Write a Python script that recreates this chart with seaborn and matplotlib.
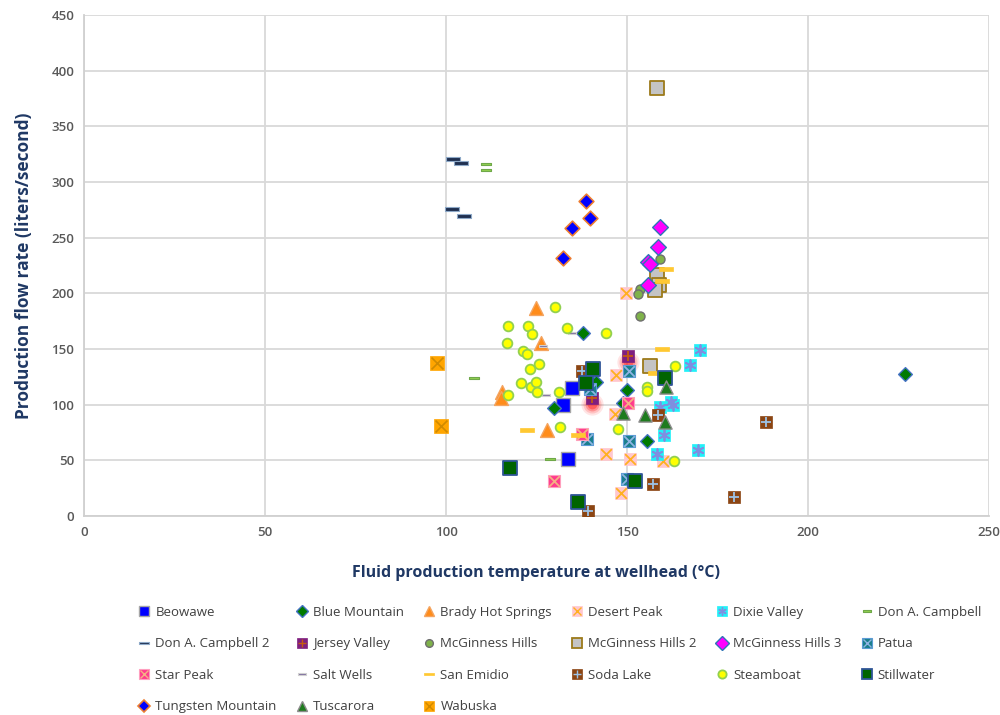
import numpy as np
import pandas as pd
import matplotlib
matplotlib.use("Agg")
import matplotlib.pyplot as plt
import matplotlib.transforms as mtransforms
from matplotlib.path import Path
from matplotlib.lines import Line2D
from matplotlib.legend_handler import HandlerTuple
import seaborn as sns

# ---- data: wellhead temperature (°C) and production flow rate (L/s) per field ----
BEOWAWE_T = [134.8, 132.3, 133.7]
BEOWAWE_Q = [114.9, 99.6, 51.2]
BLUE_MOUNTAIN_T = [137.9, 129.9, 149.9, 155.4, 226.8, 141.4, 148.8]
BLUE_MOUNTAIN_Q = [164.8, 97.2, 113.1, 67.6, 127.8, 120.6, 101.4]
BRADY_T = [124.9, 126.2, 115.4, 115.1, 127.8]
BRADY_Q = [186.4, 155.0, 111.6, 105.7, 77.2]
DESERT_PEAK_T = [149.7, 147.0, 146.7, 144.2, 150.8, 160.0, 148.3]
DESERT_PEAK_Q = [199.9, 126.6, 91.3, 55.7, 51.2, 49.7, 20.4]
DIXIE_T = [170.2, 167.4, 162.2, 162.8, 159.1, 160.2, 158.2, 169.7]
DIXIE_Q = [149.0, 135.5, 102.6, 99.6, 98.1, 72.7, 55.7, 59.2]
DAC_T = [111.0, 111.0, 107.8, 128.7]
DAC_Q = [316.0, 310.6, 124.1, 50.9]
DAC2_T = [102.0, 104.1, 101.6, 105.1]
DAC2_Q = [321.1, 317.2, 276.2, 269.6]
JERSEY_T = [150.4, 140.2]
JERSEY_Q = [143.6, 105.7]
MCG_T = [159.1, 153.6, 153.1, 153.6]
MCG_Q = [231.3, 203.8, 199.3, 179.5]
MCG2_T = [158.4, 158.4, 158.9, 157.7, 156.4]
MCG2_Q = [384.8, 216.3, 207.4, 202.9, 134.9]
MCG3_T = [159.1, 158.6, 155.8, 156.4, 155.9]
MCG3_Q = [259.7, 241.7, 228.3, 226.8, 207.4]
PATUA_T = [150.6, 138.9, 150.6, 149.9, 139.8]
PATUA_Q = [130.2, 68.8, 67.3, 33.2, 114.4]
STAR_PEAK_T = [150.2, 137.7, 129.9]
STAR_PEAK_Q = [101.2, 73.3, 31.4]
SALT_WELLS_T = [134.7, 126.9, 125.8, 127.5]
SALT_WELLS_Q = [164.0, 152.9, 138.5, 108.6]
SAN_EMIDIO_T = [160.8, 159.8, 159.8, 157.7, 122.5, 136.5]
SAN_EMIDIO_Q = [221.7, 211.2, 149.9, 128.6, 77.2, 72.7]
SODA_LAKE_T = [158.7, 157.3, 139.3, 188.4, 179.5, 137.7]
SODA_LAKE_Q = [90.7, 28.7, 4.5, 84.7, 17.3, 130.0]
STEAMBOAT_T = [130.1, 117.2, 122.7, 123.8, 133.3, 144.1, 116.8, 121.2, 122.5, 123.2,
               125.8, 163.3, 120.6, 123.5, 124.8, 125.2, 117.0, 131.1, 131.5, 147.6,
               155.6, 155.6, 163.0]
STEAMBOAT_Q = [187.9, 170.8, 170.6, 163.4, 168.5, 164.5, 155.6, 148.1, 145.4, 132.3,
               136.2, 134.3, 119.1, 116.1, 120.0, 111.6, 108.6, 111.0, 79.6, 77.8,
               115.5, 112.5, 49.7]
STILLWATER_T = [140.5, 138.6, 160.5, 152.2, 136.4, 117.7]
STILLWATER_Q = [132.0, 119.1, 124.2, 31.4, 12.3, 43.1]
TUNGSTEN_T = [138.7, 139.8, 134.7, 132.4]
TUNGSTEN_Q = [283.0, 268.1, 259.1, 231.9]
TUSCARORA_T = [160.7, 149.0, 155.1, 160.5]
TUSCARORA_Q = [115.5, 92.2, 90.7, 84.7]
WABUSKA_T = [97.4, 98.6]
WABUSKA_Q = [137.1, 80.8]

X_TICKS = [0, 50, 100, 150, 200, 250]
Y_TICKS = [0, 50, 100, 150, 200, 250, 300, 350, 400, 450]

# ---- marker shapes ----
def bar_marker(ratio):
    return Path([(-1, -ratio), (1, -ratio), (1, ratio), (-1, ratio), (-1, -ratio)],
                [Path.MOVETO, Path.LINETO, Path.LINETO, Path.LINETO, Path.CLOSEPOLY])

DASH_WIDE = bar_marker(0.26)
DASH_SMALL = bar_marker(0.32)
ASTERISK = (6, 2, 0)

# name, T, Q, marker, size(pt), face, edge, edge width, overlay glyph, glyph colour, glyph lw
SERIES = [
    ("Beowawe", BEOWAWE_T, BEOWAWE_Q, "s", 9.5, "#0000FF", "#A6A6A6", 1.0, None, None, 0),
    ("Blue Mountain", BLUE_MOUNTAIN_T, BLUE_MOUNTAIN_Q, "D", 7.0, "#007A00", "#4472C4", 1.0, None, None, 0),
    ("Brady Hot Springs", BRADY_T, BRADY_Q, "^", 10.0, "#FF8C1A", "#F4A460", 1.0, None, None, 0),
    ("Desert Peak", DESERT_PEAK_T, DESERT_PEAK_Q, "s", 9.0, "#FFC7CE", "#FFC7CE", 0.5, "x", "#FFB020", 1.3),
    ("Dixie Valley", DIXIE_T, DIXIE_Q, "s", 9.0, "#22F0F8", "#22F0F8", 0.5, ASTERISK, "#7F8FE0", 1.3),
    ("Don A. Campbell", DAC_T, DAC_Q, DASH_SMALL, 6.5, "#92D050", "#6FA84A", 0.8, None, None, 0),
    ("Don A. Campbell 2", DAC2_T, DAC2_Q, DASH_WIDE, 10.0, "#1F3050", "#8EA9C8", 0.8, None, None, 0),
    ("Jersey Valley", JERSEY_T, JERSEY_Q, "s", 9.0, "#7F1F7F", "#7F1F7F", 0.5, "+", "#C55A11", 1.3),
    ("McGinness Hills", MCG_T, MCG_Q, "o", 6.5, "#7FB24A", "#6E6E6E", 1.0, None, None, 0),
    ("McGinness Hills 2", MCG2_T, MCG2_Q, "s", 10.0, "#C4C4C4", "#9C7A1A", 1.3, None, None, 0),
    ("McGinness Hills 3", MCG3_T, MCG3_Q, "D", 8.0, "#FF00FF", "#2E75B6", 1.0, None, None, 0),
    ("Patua", PATUA_T, PATUA_Q, "s", 9.0, "#1A7F8C", "#5B9BD5", 0.8, "x", "#8FB4E3", 1.3),
    ("Star Peak", STAR_PEAK_T, STAR_PEAK_Q, "s", 9.0, "#FF3B8D", "#FF9FBF", 0.8, "x", "#F4B183", 1.3),
    ("Salt Wells", SALT_WELLS_T, SALT_WELLS_Q, DASH_SMALL, 6.0, "#7F6F9F", "#D0D0D0", 0.8, None, None, 0),
    ("San Emidio", SAN_EMIDIO_T, SAN_EMIDIO_Q, DASH_WIDE, 10.5, "#FFC832", "#FFC832", 0.5, None, None, 0),
    ("Soda Lake", SODA_LAKE_T, SODA_LAKE_Q, "s", 8.5, "#8B4513", "#8B4513", 0.5, "+", "#9DC3E6", 1.3),
    ("Steamboat", STEAMBOAT_T, STEAMBOAT_Q, "o", 7.0, "#FFFF00", "#92D050", 1.3, None, None, 0),
    ("Stillwater", STILLWATER_T, STILLWATER_Q, "s", 10.0, "#006400", "#2F5597", 1.3, None, None, 0),
    ("Tungsten Mountain", TUNGSTEN_T, TUNGSTEN_Q, "D", 7.5, "#0000FF", "#ED7D31", 1.2, None, None, 0),
    ("Tuscarora", TUSCARORA_T, TUSCARORA_Q, "^", 9.5, "#1E7B1E", "#8C8C8C", 1.0, None, None, 0),
    ("Wabuska", WABUSKA_T, WABUSKA_Q, "s", 10.0, "#FFA500", "#FFA500", 0.5, "x", "#D08A00", 1.2),
]

frames = [pd.DataFrame({"field": name, "temperature": t, "flow": q})
          for name, t, q, *_ in SERIES]
df = pd.concat(frames, ignore_index=True)

sns.set_theme(style="white")
plt.rcParams["font.family"] = ["Open Sans", "DejaVu Sans"]

fig = plt.figure(figsize=(10, 7.15), dpi=100)
ax = fig.add_axes([0.084, 0.2783, 0.905, 0.7007])

# soft red glow under the Jersey Valley points
glow_offset = mtransforms.offset_copy(ax.transData, fig=fig, x=0, y=-4, units="points")
jv = df[df["field"] == "Jersey Valley"]
for s_pt, a in [(16, 0.10), (13, 0.15), (10, 0.25), (7, 0.35)]:
    ax.scatter(jv["temperature"], jv["flow"], s=s_pt ** 2, color="#FF0000",
               alpha=a, linewidths=0, transform=glow_offset, zorder=2)

handles = []
z = 3
for name, t, q, marker, size, face, edge, elw, glyph, gcol, glw in SERIES:
    sub = df[df["field"] == name]
    sns.scatterplot(data=sub, x="temperature", y="flow", ax=ax, marker=marker,
                    s=size ** 2, color=face, edgecolor=edge, linewidth=elw,
                    legend=False, zorder=z)
    h_main = Line2D([], [], linestyle="none", marker=marker,
                    markersize=min(size, 8) * 0.85, markerfacecolor=face,
                    markeredgecolor=edge, markeredgewidth=elw)
    if glyph is not None:
        sns.scatterplot(data=sub, x="temperature", y="flow", ax=ax, marker=glyph,
                        s=(size * 0.85) ** 2, color=gcol, linewidth=glw,
                        legend=False, zorder=z + 0.5)
        h_glyph = Line2D([], [], linestyle="none", marker=glyph,
                         markersize=min(size, 8) * 0.75, color=gcol, markeredgewidth=1.0)
        handles.append((h_main, h_glyph))
    else:
        handles.append(h_main)
    z += 1

ax.set_xlim(0, 250)
ax.set_ylim(0, 450)
ax.set_xticks(X_TICKS)
ax.set_yticks(Y_TICKS)
ax.grid(True, color="#D9D9D9", linewidth=1.3)
ax.set_axisbelow(True)
for side in ["top", "right"]:
    ax.spines[side].set_visible(False)
for side in ["left", "bottom"]:
    ax.spines[side].set_color("#D0D0D0")
    ax.spines[side].set_linewidth(1.3)
ax.tick_params(axis="both", length=0, labelsize=9.5, labelcolor="#595959", pad=7)
for lab in ax.get_xticklabels() + ax.get_yticklabels():
    lab.set_fontweight("semibold")

label_color = "#1F3864"
ax.set_xlabel("Fluid production temperature at wellhead (°C)", fontsize=11.5,
              fontweight="bold", color=label_color, labelpad=19)
ax.set_ylabel("Production flow rate (liters/second)", fontsize=12.5,
              fontweight="bold", color=label_color, labelpad=13)

# legend reads left-to-right, row by row
names = [s[0] for s in SERIES]
ncol = 6
order = [i for c in range(ncol) for i in range(c, len(names), ncol)]
fig.legend([handles[i] for i in order], [names[i] for i in order],
           loc="upper left", bbox_to_anchor=(0.133, 0.16),
           ncol=ncol, frameon=False, fontsize=9.5, labelcolor="#404040",
           handler_map={tuple: HandlerTuple(ndivide=1)},
           handlelength=0.9, handletextpad=0.4, columnspacing=1.45,
           labelspacing=1.4, borderaxespad=0)

fig.savefig("out.png", dpi=100, facecolor="white")
